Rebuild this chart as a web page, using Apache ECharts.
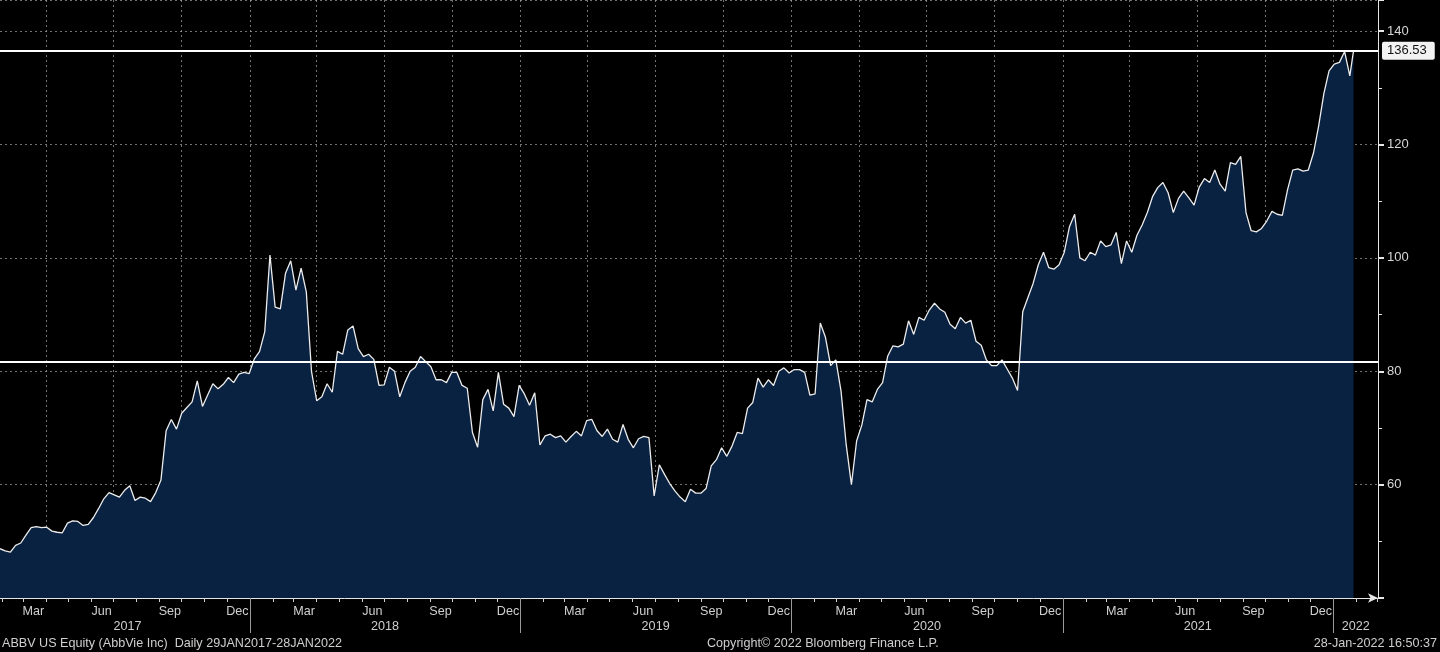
<!DOCTYPE html>
<html><head><meta charset="utf-8">
<script src="https://cdn.jsdelivr.net/npm/echarts@6/dist/echarts.min.js"></script>
<style>html,body{margin:0;padding:0;background:#000}#c{width:1440px;height:652px}</style>
</head><body><div id="c"></div>
<script>
// ---- data ----
const axisStart = '2017-01-29';
const axisEnd = '2022-03-02';
const weekStart = '2017-01-29';          // one close per week from this date
const weeklyClose = [
  48.7, 48.3, 48.1, 49.3, 49.7, 51.1, 52.4, 52.6, 52.4, 52.5,
  51.8, 51.6, 51.5, 53.2, 53.6, 53.5, 52.8, 53.0, 54.2, 55.8,
  57.5, 58.6, 58.2, 57.8, 59.0, 59.8, 57.2, 57.8, 57.6, 57.0,
  58.6, 60.8, 69.5, 71.5, 69.8, 72.6, 73.6, 74.6, 78.3, 73.8,
  75.8, 77.8, 76.9, 77.7, 78.9, 78.0, 79.5, 79.8, 79.6, 82.2,
  83.5, 87.0, 100.5, 91.3, 91.0, 97.3, 99.5, 94.3, 98.2, 94.0,
  80.0, 74.8, 75.5, 77.8, 76.3, 83.5, 83.0, 87.3, 88.0, 84.0,
  82.6, 83.0, 82.1, 77.5, 77.6, 80.7, 80.0, 75.5, 78.0, 80.0,
  80.7, 82.6, 81.7, 80.8, 78.5, 78.5, 78.0, 79.8, 79.8, 77.5,
  77.0, 69.2, 66.6, 75.0, 76.8, 73.0, 79.8, 74.2, 73.5, 72.0,
  77.5, 76.0, 74.0, 76.2, 67.0, 68.6, 68.9, 68.3, 68.6, 67.5,
  68.5, 69.4, 68.6, 71.3, 71.5, 69.5, 68.5, 69.8, 68.0, 67.5,
  70.6, 68.0, 66.5, 68.1, 68.5, 68.3, 58.0, 63.5, 61.8, 60.2,
  58.9, 57.8, 57.0, 59.2, 58.5, 58.5, 59.3, 63.3, 64.4, 66.5,
  65.0, 66.8, 69.2, 69.0, 73.5, 74.5, 78.8, 77.2, 78.5, 77.5,
  80.0, 80.6, 79.7, 80.3, 80.3, 79.8, 75.8, 76.0, 88.5, 86.0,
  81.0, 82.0, 76.5, 67.0, 60.0, 67.7, 70.5, 75.0, 74.6, 76.8,
  78.0, 82.7, 84.5, 84.3, 84.8, 88.9, 86.5, 89.5, 89.0, 90.8,
  92.0, 91.0, 90.4, 88.3, 87.5, 89.5, 88.5, 89.0, 85.3, 84.6,
  82.0, 81.0, 81.0, 82.0, 80.4, 78.8, 76.6, 90.5, 93.0, 95.5,
  98.8, 101.0, 98.3, 98.0, 98.8, 101.0, 105.5, 107.7, 100.0, 99.5,
  101.0, 100.5, 103.0, 102.0, 102.3, 104.5, 99.0, 103.0, 101.0, 104.0,
  105.8, 108.0, 110.8, 112.4, 113.3, 111.5, 108.0, 110.5, 111.8, 110.6,
  109.3, 112.5, 114.0, 113.3, 115.5, 113.0, 111.8, 116.8, 116.5, 117.9,
  108.0, 104.8, 104.6, 105.2, 106.5, 108.2, 107.7, 107.5, 112.0, 115.5,
  115.7, 115.3, 115.5, 118.5, 123.3, 129.0, 133.0, 134.2, 134.5, 136.4,
  132.1
];
const lastDate = '2022-01-28';
const lastClose = 136.53;
const supportLevel = 81.6;
const monthLabels = { '03': 'Mar', '06': 'Jun', '09': 'Sep', '12': 'Dec' };
const yearLabels = { '2017-07-20': '2017', '2018-07-02': '2018', '2019-07-02': '2019',
                     '2020-07-02': '2020', '2021-07-02': '2021', '2022-01-31': '2022' };
const yMin = 40, yMax = 145.5, yStep = 20;
const yLabelValues = [60, 80, 100, 120, 140];
const footerLeft = 'ABBV US Equity (AbbVie Inc)  Daily 29JAN2017-28JAN2022';
const footerMid = 'Copyright\u00A9 2022 Bloomberg Finance L.P.';
const footerRight = '28-Jan-2022 16:50:37';

// ---- build ----
const DAY = 86400000;
const iso = t => new Date(t).toISOString().slice(0, 10);
const categories = [];
for (let t = Date.parse(axisStart + 'T00:00:00Z'); t <= Date.parse(axisEnd + 'T00:00:00Z'); t += DAY) categories.push(iso(t));
const idx = {}; categories.forEach((d, i) => idx[d] = i);
const w0 = Date.parse(weekStart + 'T00:00:00Z');
const seriesData = weeklyClose.map((v, k) => [idx[iso(w0 + 7 * k * DAY)], v]);
seriesData.push([idx[lastDate], lastClose]);

const FONT = 'Liberation Sans';
const GRID = { type: [2, 3], color: 'rgba(175,175,175,0.65)', width: 1 };

const chart = echarts.init(document.getElementById('c'), null, { renderer: 'canvas' });
chart.setOption({
  backgroundColor: '#000',
  animation: false,
  grid: { left: 0, right: 62, top: -1, bottom: 54, containLabel: false },
  xAxis: [
    {
      type: 'category', data: categories, boundaryGap: false,
      axisLine: { show: true, lineStyle: { color: '#e6e6e6', width: 1 }, symbol: ['none', 'arrow'], symbolSize: [7, 10] },
      axisTick: { show: true, interval: (i, v) => v.slice(8, 10) === '01', length: 4, lineStyle: { color: '#d0d0d0' } },
      axisLabel: { show: true, interval: (i, v) => v.slice(8, 10) === '15' && monthLabels[v.slice(5, 7)] !== undefined,
                   formatter: v => monthLabels[v.slice(5, 7)] || '', color: '#cfcfcf', fontFamily: FONT, fontSize: 12.6, margin: 7 },
      splitLine: { show: true, interval: (i, v) => v.slice(8, 10) === '01' && ['01', '04', '07', '10'].includes(v.slice(5, 7)), lineStyle: GRID }
    },
    {
      type: 'category', data: categories, boundaryGap: false, position: 'bottom',
      axisLine: { show: false },
      axisTick: { show: true, interval: (i, v) => v.slice(5) === '01-01', length: 35, lineStyle: { color: '#9a9a9a' } },
      axisLabel: { show: true, interval: (i, v) => yearLabels[v] !== undefined, formatter: v => yearLabels[v] || '',
                   color: '#cfcfcf', fontFamily: FONT, fontSize: 12.6, margin: 22 },
      splitLine: { show: false }
    }
  ],
  yAxis: {
    type: 'value', position: 'right', min: yMin, max: yMax, interval: yStep,
    axisLine: { show: true, lineStyle: { color: '#e6e6e6', width: 1 } },
    axisTick: { show: true, inside: false, length: 6, lineStyle: { color: '#e6e6e6', width: 2 } },
    minorTick: { show: true, splitNumber: 2, length: 4, lineStyle: { color: '#e6e6e6' } },
    axisLabel: { formatter: v => yLabelValues.includes(v) ? String(v) : '', color: '#d6d6d6', fontFamily: FONT, fontSize: 13, margin: 9 },
    splitLine: { show: true, lineStyle: GRID }
  },
  series: [{
    type: 'line', xAxisIndex: 0, data: seriesData, symbol: 'none', smooth: false,
    lineStyle: { color: '#ececec', width: 1.3 },
    areaStyle: { color: '#0a2242', opacity: 1, origin: 'start' },
    z: 2,
    markLine: {
      silent: true, symbol: 'none',
      lineStyle: { color: '#ffffff', width: 2, type: 'solid' },
      data: [
        { yAxis: lastClose, label: { show: true, position: 'end', formatter: String(lastClose), color: '#111',
            backgroundColor: '#f2f2f2', padding: [3, 8, 2, 5], borderRadius: 2, fontFamily: FONT, fontSize: 13, distance: 4 } },
        { yAxis: supportLevel, label: { show: false } }
      ]
    }
  }],
  graphic: [
    { type: 'text', left: 2, top: 637, style: { text: footerLeft, fill: '#cfcfcf', font: '12.6px "' + FONT + '"' } },
    { type: 'text', left: 707, top: 637, style: { text: footerMid, fill: '#cfcfcf', font: '12.6px "' + FONT + '"' } },
    { type: 'text', right: 3, top: 637, style: { text: footerRight, fill: '#cfcfcf', font: '12.6px "' + FONT + '"' } }
  ]
});
</script></body></html>
